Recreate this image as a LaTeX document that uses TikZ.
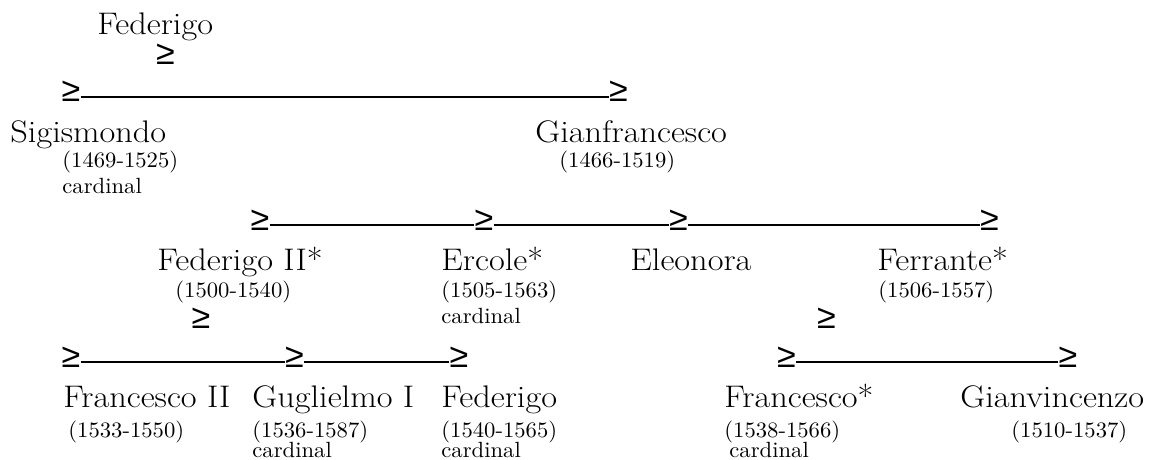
\documentclass[tikz,border=0pt]{standalone}
\usepackage{fontspec}
\newfontfamily\symfont{Liberation Sans}
\newfontfamily\namefont{Latin Modern Roman}[FakeStretch=1.1]
\newfontfamily\datefont{Latin Modern Roman}[FakeStretch=1.03]
\usetikzlibrary{positioning}
\tikzset{
  person/.style={inner sep=0pt, anchor=base west, font=\namefont\fontsize{15.6}{18}\selectfont},
  dates/.style={inner sep=0pt, anchor=base west, font=\datefont\fontsize{11}{12}\selectfont},
  geq/.style={inner sep=0pt, anchor=base, font=\symfont\fontsize{17}{18}\selectfont},
  bar/.style={line width=0.65pt}
}

\begin{document}
\begin{tikzpicture}[x=0.5pt,y=-0.5pt]
  \useasboundingbox (0,0) rectangle (1151,460);

  % Top
  \node[person] (fed) at (97,35) {Federigo};
  \node[geq] (fedg) at (165.5,65) {≥};

  % First generation
  \node[geq] (sigg) at (71,102) {≥};
  \node[geq] (giag) at (618.5,102) {≥};
  \draw[bar] ([yshift=2.5pt]sigg.base east) -- ([yshift=2.5pt]giag.base west);

  \node[person] (sig) at (10,142) {Sigismondo};
  \node[dates] (sigd) at (62,168) {(1469-1525)};
  \node[dates] (sigc) at (62,193) {cardinal};
  \node[person] (gia) at (535,142) {Gianfrancesco};
  \node[dates] (giad) at (559,168) {(1466-1519)};

  % Second generation
  \node[geq] (fiig) at (260,230) {≥};
  \node[geq] (ercg) at (484,230) {≥};
  \node[geq] (eleg) at (678.5,230) {≥};
  \node[geq] (ferg) at (989.5,230) {≥};
  \draw[bar] ([yshift=2.5pt]fiig.base east) -- ([yshift=2.5pt]ercg.base west);
  \draw[bar] ([yshift=2.5pt]ercg.base east) -- ([yshift=2.5pt]eleg.base west);
  \draw[bar] ([yshift=2.5pt]eleg.base east) -- ([yshift=2.5pt]ferg.base west);

  \node[person] (fii) at (157,270) {Federigo II*};
  \node[dates] (fiid) at (175,297) {(1500-1540)};
  \node[person] (erc) at (441,270) {Ercole*};
  \node[dates] (ercd) at (441,297) {(1505-1563)};
  \node[dates] (ercc) at (441,323) {cardinal};
  \node[person] (ele) at (630,270) {Eleonora};
  \node[person] (fer) at (877,270) {Ferrante*};
  \node[dates] (ferd) at (878,297) {(1506-1557)};

  \node[geq] (fiidown) at (201,328) {≥};
  \node[geq] (ferdown) at (826.5,328) {≥};

  % Third generation
  \node[geq] (frag) at (71,367) {≥};
  \node[geq] (gugg) at (294.5,367) {≥};
  \node[geq] (fedbg) at (459,367) {≥};
  \draw[bar] ([yshift=2.5pt]frag.base east) -- ([yshift=2.5pt]gugg.base west);
  \draw[bar] ([yshift=2.5pt]gugg.base east) -- ([yshift=2.5pt]fedbg.base west);
  \node[geq] (frsg) at (786.5,367) {≥};
  \node[geq] (gvig) at (1068,367) {≥};
  \draw[bar] ([yshift=2.5pt]frsg.base east) -- ([yshift=2.5pt]gvig.base west);

  \node[person] (fra) at (63,407) {Francesco II};
  \node[dates] (frad) at (68,437) {(1533-1550)};
  \node[person] (gug) at (252,407) {Guglielmo I};
  \node[dates] (gugd) at (252,437) {(1536-1587)};
  \node[dates] (gugc) at (252,457) {cardinal};
  \node[person] (fedb) at (441,407) {Federigo};
  \node[dates] (fedbd) at (441,437) {(1540-1565)};
  \node[dates] (fedbc) at (441,457) {cardinal};
  \node[person] (frs) at (724,407) {Francesco*};
  \node[dates] (frsd) at (724,437) {(1538-1566)};
  \node[dates] (frsc) at (729,457) {cardinal};
  \node[person] (gvi) at (960,407) {Gianvincenzo};
  \node[dates] (gvid) at (1011,437) {(1510-1537)};
\end{tikzpicture}
\end{document}
